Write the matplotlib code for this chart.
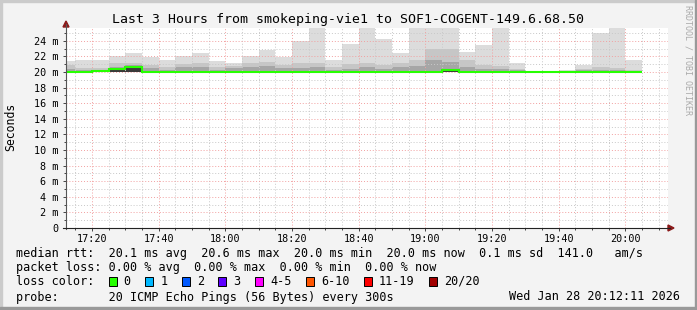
import pandas as pd
import matplotlib
matplotlib.use("Agg")
import matplotlib.pyplot as plt
import matplotlib.dates as mdates
from matplotlib.patches import Polygon, Rectangle
from matplotlib.ticker import MultipleLocator, FuncFormatter

W, H = 697, 310
MONO = "DejaVu Sans Mono"

# -------------------------
# data (ms), one value per 5 minute step starting 17:10
# -------------------------
smoke_min = [20.0, 20.0, 20.0, 19.95, 19.95, 20.0, 20.0, 20.0, 20.0, 20.0,
             20.0, 20.0, 20.0, 20.0, 20.0, 20.0, 20.0, 20.0, 20.0, 20.0,
             20.0, 20.0, 20.0, 19.95, 20.0, 20.0, 20.0, 20.0, 20.0, 20.0,
             20.0, 20.0, 20.0, 20.0, 20.0]
smoke_max = [21.4, 21.6, 21.6, 22.0, 22.4, 21.9, 21.5, 22.0, 22.4, 21.4,
             21.1, 22.0, 22.8, 21.9, 24.0, 26.0, 21.5, 23.6, 26.0, 24.2,
             22.4, 26.0, 26.0, 26.0, 22.6, 23.4, 26.0, 21.2, 20.0, 20.1,
             20.2, 20.9, 25.0, 26.0, 21.6]
smoke_mid = [20.9, 20.5, 20.5, 21.2, 21.1, 20.9, 20.7, 21.0, 21.1, 20.6,
             20.8, 21.2, 21.3, 20.9, 21.1, 21.1, 20.6, 21.0, 21.2, 20.9,
             21.2, 21.6, 23.0, 23.0, 21.5, 20.9, 20.8, 20.4, 20.0, 20.0,
             20.1, 20.4, 20.6, 20.5, 20.3]
smoke_inner = [20.4, 20.2, 20.3, 20.7, 20.9, 20.5, 20.3, 20.6, 20.7, 20.2,
               20.5, 20.7, 20.8, 20.5, 20.5, 20.6, 20.3, 20.4, 20.6, 20.4,
               20.6, 20.8, 21.5, 21.3, 20.7, 20.4, 20.4, 20.2, 20.0, 20.0,
               20.05, 20.2, 20.3, 20.3, 20.1]
smoke_dark = [20.0, 20.0, 20.1, 20.35, 20.55, 20.0, 20.0, 20.0, 20.0, 20.0,
              20.0, 20.0, 20.0, 20.0, 20.0, 20.0, 20.0, 20.0, 20.0, 20.0,
              20.0, 20.0, 20.0, 20.25, 20.0, 20.0, 20.0, 20.0, 20.0, 20.0,
              20.0, 20.0, 20.0, 20.0, 20.0]
median = [20.0, 20.0, 20.15, 20.4, 20.6, 20.0, 20.0, 20.05, 20.05, 20.0,
          20.05, 20.05, 20.05, 20.0, 20.0, 20.0, 20.0, 20.0, 20.0, 20.0,
          20.0, 20.0, 20.05, 20.3, 20.0, 20.0, 20.0, 20.0, 20.0, 20.0,
          20.0, 20.0, 20.0, 20.0, 20.0]

loss_labels = ["0", "1", "2", "3", "4-5", "6-10", "11-19", "20/20"]
loss_colors = ["#26ff00", "#00b8ff", "#0059ff", "#5e00ff", "#ff00ff",
               "#ff5500", "#ff0000", "#a10000"]

edges = mdates.date2num(pd.date_range("2026-01-28 17:10", periods=len(median) + 1, freq="5min"))
t0 = pd.Timestamp("2026-01-28 17:12:11")
t1 = t0 + pd.Timedelta(minutes=602 / (600 / 180))


def fx(x):
    return x / W


def fy(y):
    return 1 - y / H


fig = plt.figure(figsize=(W / 100, H / 100), dpi=100, facecolor="#f3f3f3")
ax = fig.add_axes([fx(66), fy(228), 602 / W, 200 / H])
ax.set_facecolor("white")

# smoke
ax.stairs(smoke_max, edges, baseline=smoke_min, fill=True, color="#dcdcdc", lw=0, zorder=1)
ax.stairs(smoke_mid, edges, baseline=smoke_min, fill=True, color="#c6c6c6", lw=0, zorder=1)
ax.stairs(smoke_inner, edges, baseline=smoke_min, fill=True, color="#a6a6a6", lw=0, zorder=1)
ax.stairs(smoke_dark, edges, baseline=smoke_min, fill=True, color="#3a3a3a", lw=0, zorder=1)
ax.stairs(median, edges, baseline=None, color="#26ff00", lw=1.5, zorder=4)

ax.xaxis_date()
ax.set_xlim(mdates.date2num(t0), mdates.date2num(t1))
ax.set_ylim(0, 200 / 7.8)

ax.xaxis.set_major_locator(mdates.MinuteLocator(byminute=[0, 20, 40]))
ax.xaxis.set_minor_locator(mdates.MinuteLocator(byminute=range(0, 60, 5)))
ax.xaxis.set_major_formatter(mdates.DateFormatter("%H:%M"))
ax.yaxis.set_major_locator(MultipleLocator(2))
ax.yaxis.set_minor_locator(MultipleLocator(1))
ax.yaxis.set_major_formatter(FuncFormatter(lambda v, p: "0" if v == 0 else f"{v:.0f} m"))

ax.set_axisbelow(False)
ax.grid(which="minor", color="#c8c8c8", ls=(0, (1, 2)), lw=0.7, zorder=2)
ax.grid(which="major", color="#f2a0a0", ls=(0, (1, 2)), lw=0.7, zorder=3)

for s in ax.spines.values():
    s.set_visible(False)
ax.tick_params(which="major", length=2.5, width=0.7, color="#444444", pad=3,
               labelsize=7.3, labelfontfamily=MONO)
ax.tick_params(which="minor", length=1.5, width=0.7, color="#444444")
ax.tick_params(axis="x", pad=1.5)

# axes lines with arrows
fig.add_artist(plt.Line2D([fx(66), fx(66)], [fy(229), fy(24)], color="#555555", lw=0.8))
fig.add_artist(plt.Line2D([fx(63), fx(670)], [fy(228), fy(228)], color="#222222", lw=0.8))
fig.add_artist(Polygon([[fx(63), fy(27)], [fx(69), fy(27)], [fx(66), fy(21)]],
                       closed=True, color="#8b1a1a", transform=fig.transFigure))
fig.add_artist(Polygon([[fx(668), fy(225)], [fx(668), fy(231)], [fx(674), fy(228)]],
                       closed=True, color="#8b1a1a", transform=fig.transFigure))

# texts
fig.text(fx(348), fy(19), "Last 3 Hours from smokeping-vie1 to SOF1-COGENT-149.6.68.50",
         ha="center", va="center", fontsize=9.5, family=MONO)
fig.text(fx(11), fy(127), "Seconds", rotation=90, ha="center", va="center",
         fontsize=8.3, family=MONO)
fig.text(fx(688), fy(60), "RRDTOOL / TOBI OETIKER", rotation=-90, ha="center",
         va="center", fontsize=6, family=MONO, color="#aaaaaa")

lines = [
    "median rtt:  20.1 ms avg  20.6 ms max  20.0 ms min  20.0 ms now  0.1 ms sd  141.0   am/s",
    "packet loss: 0.00 % avg  0.00 % max  0.00 % min  0.00 % now",
    "loss color:",
    "probe:       20 ICMP Echo Pings (56 Bytes) every 300s",
]
for txt, y in zip(lines, [254, 268, 281.5, 297]):
    fig.text(fx(16), fy(y), txt, ha="left", va="center", fontsize=8.5, family=MONO)
fig.text(fx(680), fy(297), "Wed Jan 28 20:12:11 2026", ha="right", va="center",
         fontsize=8.5, family=MONO)

x = 108.5
for lab, col in zip(loss_labels, loss_colors):
    fig.add_artist(Rectangle((fx(x), fy(285.5)), 8 / W, 8.5 / H, facecolor=col,
                             edgecolor="black", lw=0.7, transform=fig.transFigure))
    fig.text(fx(x + 15.2), fy(281.5), lab, ha="left", va="center", fontsize=8.5, family=MONO)
    x += 15.2 + len(lab) * 7.1 + 14.3

# frame shading
fig.add_artist(Rectangle((0, fy(2)), 1, 2 / H, color="#cbcbcb", transform=fig.transFigure))
fig.add_artist(Rectangle((0, 0), 2 / W, 1, color="#cbcbcb", transform=fig.transFigure))
fig.add_artist(Rectangle((0, 0), 1, 3 / H, color="#999999", transform=fig.transFigure))
fig.add_artist(Rectangle((fx(695), 0), 2 / W, 1, color="#999999", transform=fig.transFigure))

fig.savefig("out.png", dpi=100, facecolor=fig.get_facecolor())
